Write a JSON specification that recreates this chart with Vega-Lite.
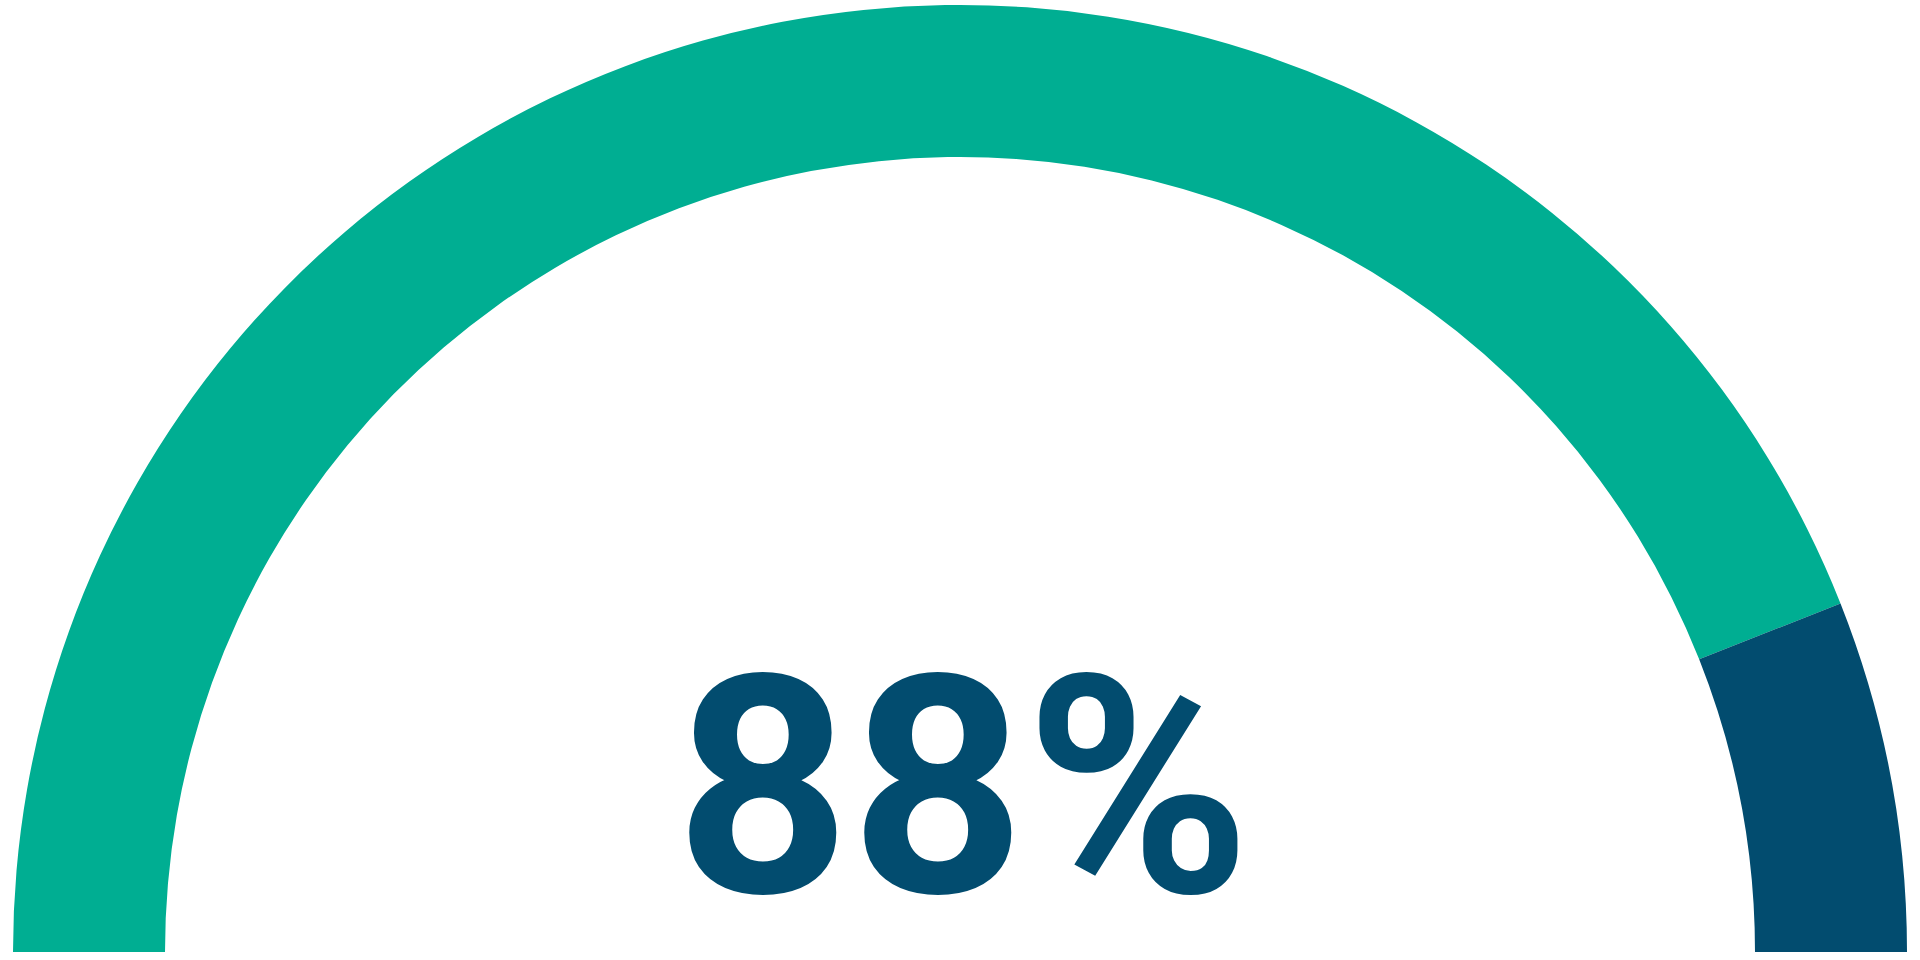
{
  "$schema": "https://vega.github.io/schema/vega-lite/v6.json",
  "width": 1920,
  "height": 960,
  "autosize": {"type": "fit", "contains": "padding"},
  "padding": {"left": 0, "right": 0, "top": 0, "bottom": 7},
  "background": "white",
  "config": {"view": {"stroke": null}},
  "layer": [
    {
      "data": {"values": [
        {"segment": "Achieved", "value": 88},
        {"segment": "Remaining", "value": 12}
      ]},
      "mark": {"type": "arc", "radius": 947, "innerRadius": 795},
      "encoding": {
        "theta": {"field": "value", "type": "quantitative", "stack": true, "scale": {"domain": [0, 100], "range": [-1.5707963, 1.5707963]}},
        "order": {"field": "segment", "type": "nominal", "sort": "ascending"},
        "y": {"datum": 0, "type": "quantitative", "scale": {"domain": [0, 1]}, "axis": null},
        "color": {"field": "segment", "type": "nominal", "scale": {"domain": ["Achieved", "Remaining"], "range": ["#00AE92", "#024C6F"]}, "legend": null}
      }
    },
    {
      "data": {"values": [{"label": "88%"}]},
      "mark": {"type": "text", "font": "Roboto", "fontWeight": "bold", "fontSize": 305, "color": "#024C6F", "baseline": "alphabetic", "align": "center", "dy": -60, "dx": 3},
      "encoding": {
        "text": {"field": "label", "type": "nominal"},
        "y": {"datum": 0, "type": "quantitative"}
      }
    }
  ]
}
